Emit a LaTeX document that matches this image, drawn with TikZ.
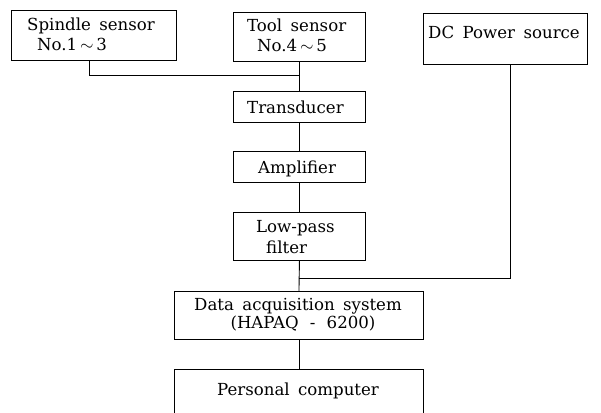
\documentclass[tikz,border=0pt]{standalone}
\usepackage{fontspec}
\setmainfont[WordSpace=1.6]{DejaVu Serif}
\begin{document}
\begin{tikzpicture}[x=1pt,y=-1pt,
  box/.style={draw,line width=0.9pt,rectangle,inner sep=0pt,anchor=north west},
  txt/.style={inner sep=0pt,anchor=base west,align=left,font=\fontsize{16.6}{20.5}\selectfont},
  ctxt/.style={inner sep=0pt,anchor=base,align=center,font=\fontsize{16.6}{16}\selectfont},
  wire/.style={line width=0.9pt}]
\useasboundingbox (0,0) rectangle (601,412);
\clip (0,0) rectangle (601,412);
% boxes
\node[box,minimum width=165pt,minimum height=50pt] (spindle) at (11,10) {};
\node[box,minimum width=132pt,minimum height=49pt] (tool) at (233,12) {};
\node[box,minimum width=164pt,minimum height=51pt] (dc) at (423,13) {};
\node[box,minimum width=132pt,minimum height=31pt] (trans) at (233,91) {};
\node[box,minimum width=132pt,minimum height=31pt] (amp) at (233,151) {};
\node[box,minimum width=132pt,minimum height=48pt] (lpf) at (233,212) {};
\node[box,minimum width=249pt,minimum height=48pt] (daq) at (174,291) {};
\node[box,minimum width=249pt,minimum height=60pt] (pc) at (174,369) {};
% labels (multi-line labels are placed by the baseline of their last line)
\node[txt] (spindleT) at (27,51) {Spindle sensor\\\hspace*{10pt}No.1$\,\sim\,$3};
\node[txt] (toolT) at (247,52) {Tool sensor\\\hspace*{10pt}No.4$\,\sim\,$5};
\node[txt] (dcT) at (428,38) {DC Power source};
\node[txt] (transT) at (247,113) {Transducer};
\node[txt] (ampT) at (258,173) {Amplifier};
\node[txt] (lpfT) at (256,253) {Low-pass\\\hspace*{10pt}filter};
\node[ctxt] (daqT) at (298,328) {Data acquisition system\\\hspace*{10pt}(HAPAQ \,-\, 6200)};
\node[ctxt] (pcT) at (298,395) {Personal computer};
% junctions
\coordinate (j1) at (299,75);
\coordinate (j2) at (299,278);
% connectors
\draw[wire] ([xshift=-4.5pt]spindle.south) |- (j1);
\draw[wire] (tool.south) -- (trans.north);
\draw[wire] (trans.south) -- (amp.north);
\draw[wire] (amp.south) -- (lpf.north);
\draw[wire] (lpf.south) -- (daq.north);
\draw[wire] (daq.south) -- (pc.north);
\draw[wire] ([xshift=5pt]dc.south) |- (j2);
\end{tikzpicture}
\end{document}
